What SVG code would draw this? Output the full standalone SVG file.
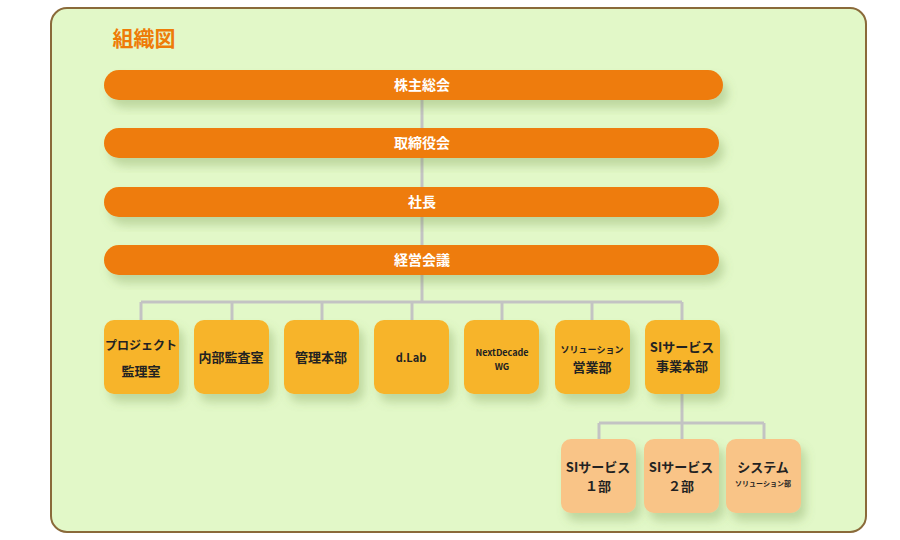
<svg xmlns="http://www.w3.org/2000/svg" width="900" height="540" viewBox="0 0 900 540">
<defs>
<filter id="sh" x="-30%" y="-30%" width="160%" height="180%"><feDropShadow dx="5" dy="8" stdDeviation="5" flood-color="#6a8a40" flood-opacity="0.3"/></filter>
</defs>
<style>
text{font-family:"Noto Sans CJK JP","Noto Sans",sans-serif;font-weight:bold;text-anchor:middle}
.bar{fill:#ee7c08;filter:url(#sh)}
.bt{fill:#fff;font-size:14px}
.b1{fill:#f7b42c;filter:url(#sh)}
.b2{fill:#f9c487;filter:url(#sh)}
.t{fill:#222;font-size:13px}
.s{fill:#222;font-size:9px}
.c{stroke:#c3c3c3;stroke-width:3;fill:none}
</style>
<rect x="51" y="8" width="815" height="524" rx="16" fill="#e2f8c8" stroke="#8a6a3a" stroke-width="2"/>
<text x="144" y="46" style="fill:#ee7c08;font-size:21px">組織図</text>
<g id="connectors">
<path class="c" d="M422 100V275M141 302H682M141 302V320M232 302V320M322 302V320M412 302V320M502 302V320M592 302V320M682 302V320M422 275V302M682 394V439M599 423H764M599 423V439M764 423V439"/>
</g>
<g id="n1"><rect class="bar" x="104" y="70" width="619" height="30" rx="15"/><text class="bt" x="422" y="90">株主総会</text></g>
<g id="n2"><rect class="bar" x="104" y="128" width="615" height="30" rx="15"/><text class="bt" x="422" y="148">取締役会</text></g>
<g id="n3"><rect class="bar" x="104" y="187" width="615" height="30" rx="15"/><text class="bt" x="422" y="207">社長</text></g>
<g id="n4"><rect class="bar" x="104" y="245" width="615" height="30" rx="15"/><text class="bt" x="422" y="265">経営会議</text></g>
<g id="n5"><rect class="b1" x="104" y="320" width="75" height="74" rx="10"/><text class="t" x="141" y="350" style="font-size:12px">プロジェクト</text><text class="t" x="141" y="376">監理室</text></g>
<g id="n6"><rect class="b1" x="194" y="320" width="75" height="74" rx="10"/><text class="t" x="231" y="362">内部監査室</text></g>
<g id="n7"><rect class="b1" x="284" y="320" width="75" height="74" rx="10"/><text class="t" x="321" y="362">管理本部</text></g>
<g id="n8"><rect class="b1" x="374" y="320" width="75" height="74" rx="10"/><text class="t" x="411" y="362" style="font-size:11px">d.Lab</text></g>
<g id="n9"><rect class="b1" x="464" y="320" width="75" height="74" rx="10"/><text class="t" x="502" y="356" style="font-size:9px">NextDecade</text><text class="t" x="502" y="370" style="font-size:9px">WG</text></g>
<g id="n10"><rect class="b1" x="555" y="320" width="75" height="74" rx="10"/><text class="s" x="592" y="353">ソリューション</text><text class="t" x="592" y="372">営業部</text></g>
<g id="n11"><rect class="b1" x="645" y="320" width="75" height="74" rx="10"/><text class="t" x="682" y="352">SIサービス</text><text class="t" x="682" y="371">事業本部</text></g>
<g id="n12"><rect class="b2" x="561" y="439" width="75" height="74" rx="10"/><text class="t" x="598" y="472">SIサービス</text><text class="t" x="598" y="491">１部</text></g>
<g id="n13"><rect class="b2" x="644" y="439" width="75" height="74" rx="10"/><text class="t" x="681" y="472">SIサービス</text><text class="t" x="681" y="491">２部</text></g>
<g id="n14"><rect class="b2" x="726" y="439" width="75" height="74" rx="10"/><text class="t" x="763" y="472">システム</text><text class="s" x="763" y="486" style="font-size:7px">ソリューション部</text></g>
</svg>
